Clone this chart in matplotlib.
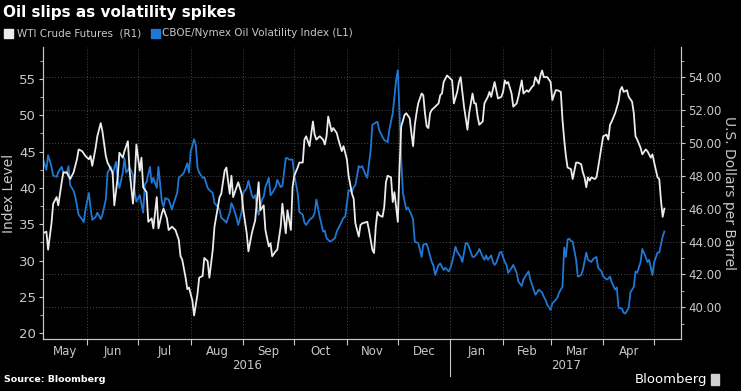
import pandas as pd
import matplotlib
matplotlib.use('Agg')
import matplotlib.pyplot as plt
from matplotlib.patches import Rectangle
from matplotlib.ticker import MultipleLocator, FormatStrFormatter

# days counted from the first point of the chart
start = pd.Timestamp('2016-05-06')

# WTI crude futures, US$ per barrel (right axis)
wti_day = [0, 2, 3, 5, 6, 8, 9, 11, 12, 14,
           16, 18, 20, 21, 23, 25, 27, 28, 29, 31,
           32, 34, 35, 37, 38, 41, 42, 44, 45, 47,
           48, 50, 51, 53, 54, 55, 57, 58, 59, 61,
           62, 64, 65, 67, 68, 70, 71, 73, 74, 76,
           78, 80, 81, 82, 84, 85, 86, 88, 89, 91,
           92, 94, 95, 97, 98, 100, 101, 103, 104, 105,
           107, 108, 110, 111, 112, 114, 115, 117, 118, 120,
           121, 123, 125, 127, 128, 130, 131, 133, 134, 135,
           137, 138, 140, 141, 143, 144, 146, 147, 148, 150,
           151, 153, 154, 155, 157, 159, 160, 161, 163, 165,
           166, 167, 168, 170, 171, 173, 174, 176, 177, 179,
           180, 182, 183, 184, 186, 187, 188, 191, 192, 194,
           195, 196, 197, 198, 200, 201, 202, 203, 205, 206,
           207, 208, 209, 210, 211, 213, 214, 216, 217, 218,
           219, 220, 221, 223, 224, 225, 226, 227, 228, 229,
           231, 233, 234, 235, 236, 238, 239, 241, 242, 244,
           245, 246, 248, 249, 250, 251, 253, 254, 255, 256,
           257, 259, 260, 262, 263, 264, 266, 267, 268, 270,
           271, 272, 273, 274, 276, 277, 279, 280, 282, 283,
           285, 286, 288, 289, 290, 292, 293, 294, 295, 296,
           297, 299, 300, 302, 303, 305, 306, 307, 308, 309,
           311, 312, 314, 315, 317, 318, 319, 320, 321, 322,
           323, 325, 326, 327, 329, 330, 332, 333, 334, 335,
           337, 339, 340, 341, 342, 344, 345, 347, 348, 349,
           350, 352, 353, 355, 356, 358, 359, 360, 362, 363,
           364, 365, 366]
wti_usd = [44.5, 44.6, 43.5, 45.1, 46.3, 46.7, 46.2, 47.6, 48.2, 48.2,
           47.8, 48.2, 49.0, 49.6, 49.5, 49.2, 49.0, 49.2, 48.6, 49.7,
           50.4, 51.2, 50.7, 49.2, 48.8, 48.2, 46.2, 47.9, 49.4, 49.1,
           49.5, 50.1, 48.3, 46.3, 47.7, 49.9, 48.3, 49.1, 47.3, 47.0,
           45.2, 45.4, 44.8, 46.7, 44.8, 45.7, 46.0, 45.4, 44.7, 44.9,
           44.7, 44.1, 43.1, 42.9, 41.8, 41.1, 41.2, 40.4, 39.5, 40.8,
           41.8, 41.9, 43.0, 42.8, 41.8, 43.5, 44.9, 46.1, 46.7, 46.9,
           48.3, 48.5, 46.9, 48.0, 46.7, 47.3, 47.6, 46.9, 45.9, 44.5,
           43.4, 44.5, 45.3, 47.6, 45.9, 46.2, 44.7, 43.7, 43.9, 43.1,
           43.4, 43.5, 44.9, 46.3, 44.5, 45.9, 44.7, 47.3, 48.0, 48.5,
           48.8, 48.8, 50.2, 50.4, 49.8, 51.3, 50.5, 50.2, 50.4, 50.2,
           49.9, 50.4, 51.6, 50.7, 50.9, 50.6, 50.2, 49.5, 49.8, 49.0,
           48.0, 46.9, 46.6, 45.1, 44.3, 45.0, 45.1, 45.2, 44.7, 43.5,
           43.3, 44.9, 45.8, 45.6, 45.5, 46.1, 47.6, 48.0, 47.9, 46.4,
           47.0, 46.1, 45.2, 48.5, 51.0, 51.7, 51.8, 51.5, 50.6, 49.8,
           51.1, 51.8, 52.4, 53.0, 52.9, 51.8, 51.0, 50.9, 51.8, 52.0,
           52.2, 52.4, 52.9, 53.0, 53.7, 54.1, 54.0, 53.8, 52.4, 53.1,
           53.7, 54.0, 52.2, 51.5, 50.8, 51.8, 53.0, 52.4, 52.4, 51.6,
           51.1, 51.3, 52.4, 52.8, 53.1, 52.8, 53.7, 53.2, 52.7, 52.8,
           53.1, 53.8, 53.6, 53.7, 53.0, 52.2, 52.4, 52.8, 53.8, 53.0,
           53.2, 53.1, 53.4, 53.5, 54.0, 53.6, 54.1, 54.4, 54.0, 54.0,
           54.0, 53.7, 52.6, 53.2, 53.2, 53.1, 51.4, 50.2, 49.2, 48.5,
           48.4, 47.8, 48.8, 48.8, 48.7, 48.2, 47.9, 47.3, 47.9, 47.7,
           47.9, 47.8, 47.9, 48.5, 49.8, 50.4, 50.5, 50.2, 51.1, 51.3,
           51.8, 52.5, 53.2, 53.4, 53.1, 53.2, 52.8, 52.5, 51.8, 50.4,
           50.2, 49.7, 49.3, 49.6, 49.5, 49.1, 49.3, 48.8, 47.9, 47.8,
           46.5, 45.5, 46.0]

# CBOE/Nymex oil volatility index (left axis)
ovx_day = [0, 2, 3, 5, 6, 8, 9, 11, 12, 14,
           15, 16, 18, 19, 21, 22, 24, 25, 27, 28,
           29, 31, 32, 34, 35, 37, 38, 40, 41, 43,
           44, 45, 47, 48, 49, 51, 53, 54, 55, 57,
           59, 60, 61, 63, 64, 65, 67, 68, 70, 71,
           72, 74, 76, 77, 79, 80, 82, 83, 85, 86,
           87, 89, 90, 91, 92, 94, 95, 97, 98, 100,
           101, 103, 104, 105, 107, 108, 110, 111, 112, 114,
           115, 117, 118, 120, 121, 123, 124, 125, 126, 127,
           129, 130, 131, 133, 134, 135, 137, 138, 140, 141,
           143, 144, 145, 147, 148, 150, 151, 153, 154, 155,
           157, 159, 160, 161, 163, 165, 166, 167, 169, 171,
           172, 173, 175, 177, 178, 179, 180, 182, 183, 184,
           186, 187, 188, 190, 191, 193, 194, 196, 197, 198,
           200, 201, 203, 204, 206, 207, 208, 209, 210, 211,
           212, 214, 215, 217, 218, 219, 221, 222, 223, 224,
           226, 227, 229, 230, 231, 233, 234, 236, 237, 239,
           240, 241, 243, 244, 246, 247, 249, 250, 251, 253,
           254, 256, 257, 259, 260, 261, 262, 264, 265, 266,
           267, 269, 270, 272, 273, 274, 276, 277, 279, 280,
           282, 283, 284, 286, 287, 289, 290, 291, 292, 294,
           295, 296, 297, 299, 300, 302, 303, 304, 306, 307,
           308, 309, 310, 311, 312, 314, 315, 317, 318, 320,
           321, 323, 324, 326, 327, 329, 330, 332, 333, 334,
           335, 337, 338, 339, 341, 342, 343, 345, 346, 348,
           349, 350, 352, 353, 355, 356, 357, 359, 360, 362,
           363, 365, 366]
ovx_level = [43.9, 42.5, 44.5, 42.9, 41.7, 41.5, 42.2, 42.9, 42.1, 42.1,
             43.0, 40.4, 39.6, 38.8, 36.3, 36.0, 35.3, 37.0, 39.3, 37.3,
             35.6, 36.0, 36.6, 35.7, 36.3, 38.4, 42.1, 42.9, 41.8, 43.6,
             41.1, 40.0, 42.1, 44.1, 42.1, 42.8, 41.8, 39.5, 38.1, 39.0,
             36.6, 40.5, 40.8, 42.9, 40.7, 41.4, 40.0, 42.9, 38.1, 37.4,
             38.6, 38.4, 37.0, 37.9, 39.3, 41.4, 41.8, 42.1, 43.4, 42.1,
             45.0, 46.7, 45.9, 42.8, 42.1, 41.4, 41.5, 40.0, 39.7, 39.3,
             37.9, 37.4, 37.0, 35.9, 35.5, 35.2, 36.6, 37.9, 37.4, 35.9,
             34.9, 36.7, 39.3, 40.0, 41.0, 39.0, 38.6, 39.0, 37.4, 36.3,
             38.4, 38.8, 40.1, 41.4, 39.0, 39.3, 40.1, 41.1, 40.1, 40.3,
             44.1, 44.1, 43.9, 43.9, 41.8, 39.3, 36.7, 36.3, 35.2, 34.9,
             35.6, 36.0, 36.6, 38.4, 36.0, 34.0, 34.1, 33.1, 32.6, 32.9,
             33.1, 34.0, 34.9, 35.9, 36.0, 37.9, 39.7, 39.5, 40.1, 40.4,
             43.0, 42.8, 43.0, 41.8, 41.4, 45.2, 48.7, 49.0, 49.1, 48.0,
             47.0, 46.6, 46.3, 48.0, 50.3, 52.5, 54.9, 56.2, 50.3, 43.9,
             39.3, 37.0, 37.3, 36.3, 35.6, 32.6, 32.4, 31.5, 30.5, 32.2,
             32.3, 31.5, 29.8, 29.3, 28.0, 29.4, 29.6, 28.7, 29.0, 28.5,
             29.0, 29.8, 31.9, 31.2, 30.5, 29.8, 32.4, 32.4, 31.8, 30.5,
             30.5, 31.1, 31.6, 30.5, 30.1, 30.7, 30.1, 30.7, 29.8, 29.4,
             29.7, 31.1, 31.2, 29.8, 29.4, 28.3, 29.0, 29.4, 28.3, 27.1,
             26.5, 27.4, 27.8, 28.5, 27.4, 26.0, 25.3, 25.6, 26.0, 25.6,
             25.0, 24.6, 23.9, 23.2, 24.1, 24.6, 24.9, 25.6, 26.4, 31.8,
             30.5, 32.9, 33.0, 32.7, 32.6, 30.1, 27.8, 28.0, 28.7, 31.1,
             30.1, 29.8, 30.2, 30.5, 29.0, 28.5, 27.8, 27.4, 27.5, 27.8,
             27.0, 26.0, 26.3, 23.5, 23.4, 22.8, 22.7, 23.5, 25.6, 26.4,
             28.5, 28.3, 29.8, 31.6, 30.5, 29.8, 30.1, 28.0, 29.8, 31.1,
             31.1, 33.3, 34.0]

month_labels = ['May', 'Jun', 'Jul', 'Aug', 'Sep', 'Oct', 'Nov', 'Dec',
                'Jan', 'Feb', 'Mar', 'Apr']
year_labels = ['2016', '2017']

wti_dates = start + pd.to_timedelta(wti_day, unit='D')
ovx_dates = start + pd.to_timedelta(ovx_day, unit='D')

bg = 'black'
fg = '#c8c8c8'
grid_c = '#4a4a4a'
blue = '#1f78d6'
white = '#ececec'

fig = plt.figure(figsize=(7.41, 3.91), dpi=100, facecolor=bg)
ax = fig.add_axes([43 / 741, 1 - 339 / 391, 638 / 741, 292 / 391])
ax.set_facecolor(bg)
ax2 = ax.twinx()

ax.plot(ovx_dates, ovx_level, color=blue, lw=1.3)
ax2.plot(wti_dates, wti_usd, color=white, lw=1.3)

x0 = start
x1 = start + pd.Timedelta(days=375.8)
ax.set_xlim(x0, x1)
ax.set_ylim(19.2, 59.4)
ax2.set_ylim(38.07, 55.83)

# month boundaries and month labels centred in the visible part of each month
bounds = pd.date_range('2016-05-01', '2017-06-01', freq='MS')
mids = []
for a, b in zip(bounds[:-1], bounds[1:]):
    a = max(a, x0)
    b = min(b, x1)
    mids.append(a + (b - a) / 2)
mids = mids[:len(month_labels)]
ax.set_xticks(list(bounds[1:-1]))
ax.set_xticklabels([])
ax.set_xticks(mids, month_labels, minor=True)
ax.tick_params(axis='x', which='major', length=4, color=fg, direction='out')
ax.tick_params(axis='x', which='minor', length=0, pad=4, labelsize=8.5,
               labelcolor=fg)

ax.yaxis.set_major_locator(MultipleLocator(5))
ax.yaxis.set_minor_locator(MultipleLocator(2.5))
ax.tick_params(axis='y', which='both', colors=fg, labelsize=9.5, direction='out')
ax.tick_params(axis='y', which='major', length=3, pad=2)
ax.tick_params(axis='y', which='minor', length=2)

ax2.yaxis.set_major_locator(MultipleLocator(2))
ax2.yaxis.set_minor_locator(MultipleLocator(1))
ax2.yaxis.set_major_formatter(FormatStrFormatter('%.2f'))
ax2.tick_params(axis='y', which='both', colors=fg, labelsize=8.5, direction='out')
ax2.tick_params(axis='y', which='major', length=3, pad=2)
ax2.tick_params(axis='y', which='minor', length=2)

# dotted grid
ax.grid(axis='x', which='major', color=grid_c, ls=(0, (1, 2)), lw=0.7)
ax2.grid(axis='y', which='major', color=grid_c, ls=(0, (1, 2)), lw=0.7)

for a in (ax, ax2):
    a.spines['top'].set_visible(False)
    for s in ('left', 'right', 'bottom'):
        a.spines[s].set_color(fg)
        a.spines[s].set_linewidth(0.8)

ax.set_ylabel('Index Level', color=fg, fontsize=10)
ax.yaxis.set_label_coords(-0.042, 0.5)
ax2.set_ylabel('U.S. Dollars per Barrel', color=fg, fontsize=10,
               rotation=270, va='center')
ax2.yaxis.set_label_coords(1.075, 0.5)

# year labels with a separator at the year change
jan = pd.Timestamp('2017-01-01')
trans = ax.get_xaxis_transform()
ax.text(x0 + (jan - x0) / 2, -0.09, year_labels[0], transform=trans,
        ha='center', va='center', color=fg, fontsize=8.5)
ax.text(jan + (x1 - jan) / 2, -0.09, year_labels[1], transform=trans,
        ha='center', va='center', color=fg, fontsize=8.5)
ax.plot([jan, jan], [-0.015, -0.125], transform=trans, color=fg, lw=0.8,
        clip_on=False)

# title, legend, footer
fig.text(3 / 741, 1 - 13 / 391, 'Oil slips as volatility spikes',
         color='white', fontsize=11, fontweight='bold', va='center')
fig.patches.append(Rectangle((4 / 741, 1 - 38 / 391), 9 / 741, 9 / 391,
                             transform=fig.transFigure, color=white))
fig.text(17 / 741, 1 - 33.5 / 391, 'WTI Crude Futures  (R1)', color=fg,
         fontsize=7.5, va='center')
fig.patches.append(Rectangle((151 / 741, 1 - 38 / 391), 9 / 741, 9 / 391,
                             transform=fig.transFigure, color=blue))
fig.text(162 / 741, 1 - 33.5 / 391, 'CBOE/Nymex Oil Volatility Index (L1)',
         color=fg, fontsize=7.5, va='center')

fig.text(4 / 741, 1 - 380 / 391, 'Source: Bloomberg', color='white',
         fontsize=6.8, fontweight='bold', va='center')
fig.text(707 / 741, 1 - 379 / 391, 'Bloomberg', color='white', fontsize=9.5,
         va='center', ha='right')
fig.patches.append(Rectangle((711 / 741, 1 - 385 / 391), 8 / 741, 11 / 391,
                             transform=fig.transFigure, color='#d0d0d0'))

fig.savefig('out.png', dpi=100, facecolor=bg)
